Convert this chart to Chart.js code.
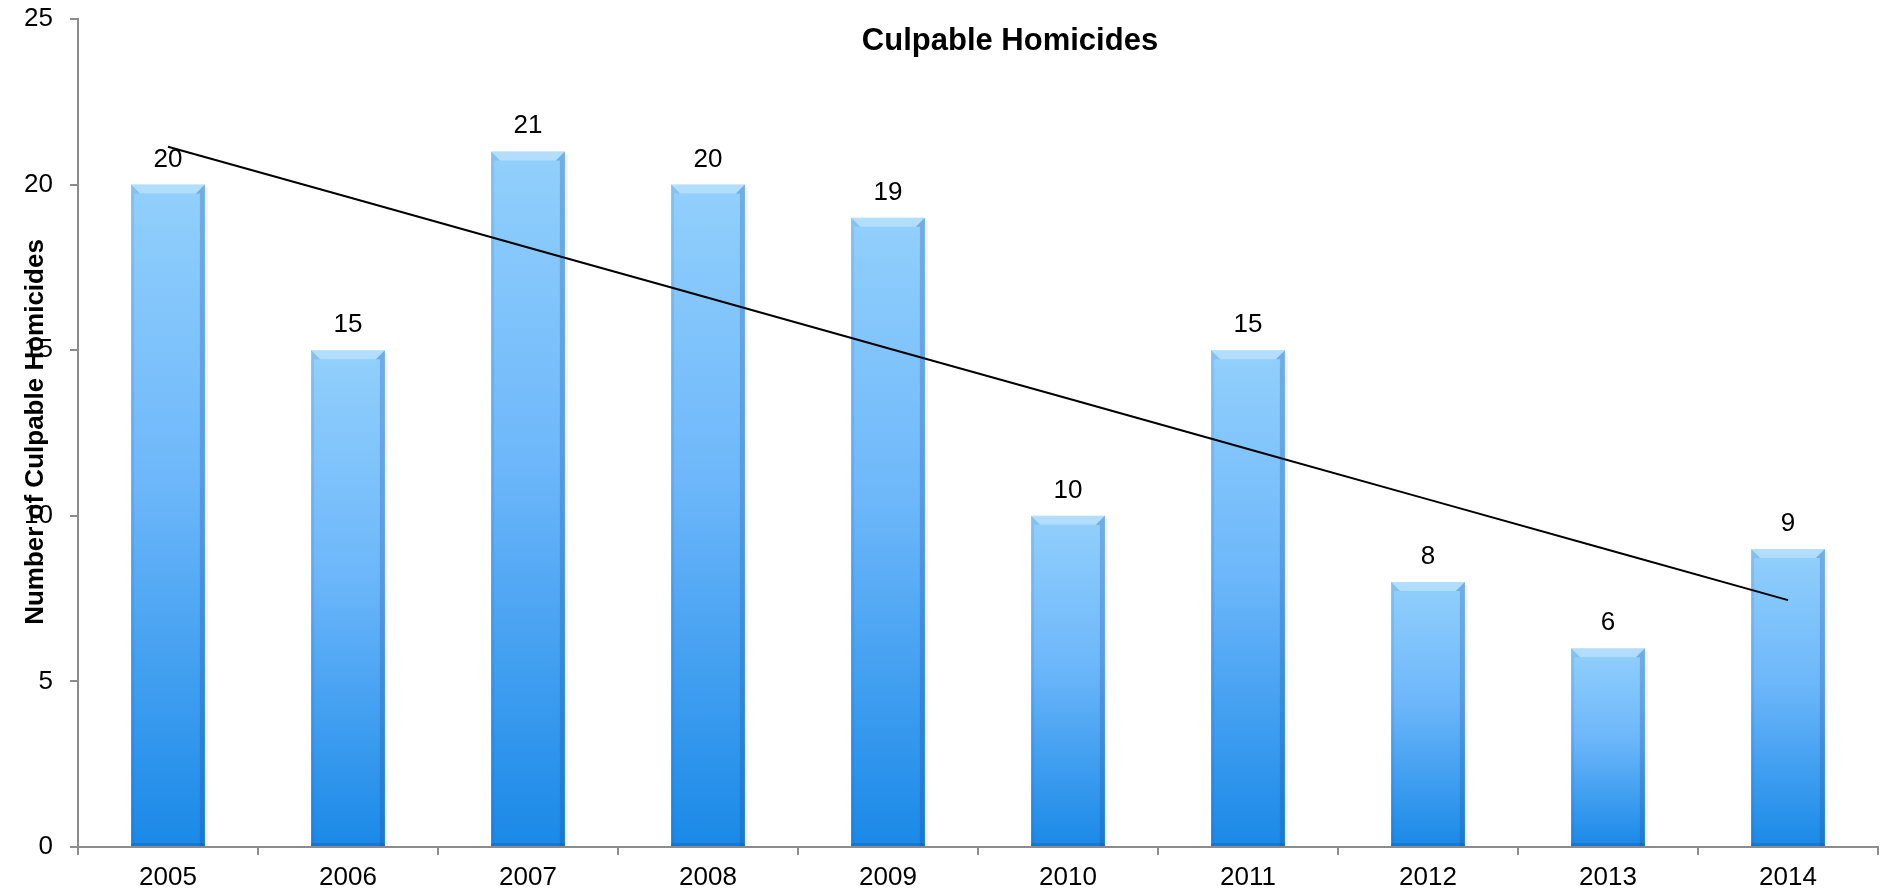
<!DOCTYPE html>
<html>
<head>
<meta charset="utf-8">
<title>Culpable Homicides</title>
<script src="https://cdn.jsdelivr.net/npm/chart.js@4"></script>
<style>
  html, body { margin: 0; padding: 0; background: #ffffff; }
  canvas { display: block; }
</style>
</head>
<body>
<canvas id="homicideChart" width="1886" height="895"></canvas>
<script>
const years = ['2005', '2006', '2007', '2008', '2009', '2010', '2011', '2012', '2013', '2014'];
const homicides = [20, 15, 21, 20, 19, 10, 15, 8, 6, 9];
const yTicks = [0, 5, 10, 15, 20, 25];

const FONT = "'Liberation Sans', Arial, sans-serif";
const AXIS_GREY = '#8c8c8c';

// least squares trend over the yearly counts
function linearTrend(values) {
    const n = values.length;
    let sx = 0, sy = 0, sxy = 0, sxx = 0;
    values.forEach((v, i) => {
        sx += i; sy += v; sxy += i * v; sxx += i * i;
    });
    const slope = (n * sxy - sx * sy) / (n * sxx - sx * sx);
    const intercept = (sy - slope * sx) / n;
    return values.map((v, i) => intercept + slope * i);
}

function barGradient(context) {
    const chart = context.chart;
    const area = chart.chartArea;
    if (!area || context.type !== 'data') {
        return '#6cb6fa';
    }
    const y = chart.scales.y;
    const top = y.getPixelForValue(context.raw);
    const bottom = y.getPixelForValue(0);
    const g = chart.ctx.createLinearGradient(0, top, 0, bottom);
    g.addColorStop(0, '#92d0fc');
    g.addColorStop(0.45, '#6db7fa');
    g.addColorStop(1, '#1a89e7');
    return g;
}

// bevelled edges, value labels and the free-floating titles
const decorations = {
    id: 'decorations',
    afterDatasetsDraw(chart) {
        const ctx = chart.ctx;
        const meta = chart.getDatasetMeta(1);
        ctx.save();
        meta.data.forEach((bar) => {
            const l = bar.x - bar.width / 2;
            const r = bar.x + bar.width / 2;
            const t = bar.y;
            const b = bar.base;
            const bev = 9;

            // soft shadow on the right
            ctx.fillStyle = 'rgba(0,0,0,0.05)';
            ctx.fillRect(r, t + 3, 3, b - t - 3);

            // top bevel
            ctx.fillStyle = 'rgba(255,255,255,0.3)';
            ctx.beginPath();
            ctx.moveTo(l, t);
            ctx.lineTo(r, t);
            ctx.lineTo(r - bev, t + bev);
            ctx.lineTo(l + bev, t + bev);
            ctx.closePath();
            ctx.fill();

            // right edge
            ctx.fillStyle = 'rgba(20,70,150,0.25)';
            ctx.beginPath();
            ctx.moveTo(r, t);
            ctx.lineTo(r, b);
            ctx.lineTo(r - 5, b);
            ctx.lineTo(r - 5, t + bev);
            ctx.lineTo(r - bev, t + bev);
            ctx.closePath();
            ctx.fill();

            // left edge
            ctx.fillStyle = 'rgba(20,70,150,0.1)';
            ctx.beginPath();
            ctx.moveTo(l, t);
            ctx.lineTo(l + bev, t + bev);
            ctx.lineTo(l + 3, t + bev);
            ctx.lineTo(l + 3, b);
            ctx.lineTo(l, b);
            ctx.closePath();
            ctx.fill();

            // darker foot
            ctx.fillStyle = 'rgba(20,80,160,0.3)';
            ctx.fillRect(l, b - 3, r - l, 3);
        });

        // values above the bars
        ctx.fillStyle = '#000000';
        ctx.font = '26px ' + FONT;
        ctx.textAlign = 'center';
        ctx.textBaseline = 'alphabetic';
        meta.data.forEach((bar, i) => {
            ctx.fillText(String(homicides[i]), bar.x, bar.y - 18);
        });
        ctx.restore();
    },
    afterDraw(chart) {
        const ctx = chart.ctx;
        ctx.save();
        ctx.fillStyle = '#000000';

        ctx.font = 'bold 31px ' + FONT;
        ctx.textAlign = 'center';
        ctx.textBaseline = 'alphabetic';
        ctx.fillText('Culpable Homicides', 1010, 50);

        ctx.translate(43, 432);
        ctx.rotate(-Math.PI / 2);
        ctx.font = 'bold 26px ' + FONT;
        ctx.fillText('Number of Culpable Homicides', 0, 0);
        ctx.restore();
    }
};

new Chart(document.getElementById('homicideChart'), {
    data: {
        labels: years,
        datasets: [
            {
                type: 'line',
                label: 'Trend',
                data: linearTrend(homicides),
                borderColor: '#000000',
                borderWidth: 2,
                pointRadius: 0,
                fill: false,
                order: 0
            },
            {
                type: 'bar',
                label: 'Culpable Homicides',
                data: homicides,
                backgroundColor: barGradient,
                borderWidth: 0,
                categoryPercentage: 1,
                barPercentage: 0.41,
                order: 1
            }
        ]
    },
    options: {
        responsive: false,
        animation: false,
        devicePixelRatio: 1,
        layout: {
            padding: { top: 19, right: 8, bottom: 0, left: 0 }
        },
        plugins: {
            legend: { display: false },
            tooltip: { enabled: false },
            title: { display: false }
        },
        scales: {
            x: {
                type: 'category',
                offset: true,
                grid: {
                    offset: true,
                    drawOnChartArea: false,
                    color: AXIS_GREY,
                    lineWidth: 2,
                    tickLength: 8
                },
                border: { display: true, color: AXIS_GREY, width: 2 },
                ticks: {
                    color: '#000000',
                    padding: 7,
                    font: { family: FONT, size: 26 }
                },
                afterFit(scale) { scale.height = 48; }
            },
            y: {
                type: 'linear',
                min: yTicks[0],
                max: yTicks[yTicks.length - 1],
                afterBuildTicks(scale) {
                    scale.ticks = yTicks.map(v => ({ value: v }));
                },
                grid: {
                    drawOnChartArea: false,
                    color: AXIS_GREY,
                    lineWidth: 2,
                    tickLength: 8
                },
                border: { display: true, color: AXIS_GREY, width: 2 },
                ticks: {
                    color: '#000000',
                    padding: 17,
                    font: { family: FONT, size: 26 }
                },
                afterFit(scale) {
                    // label padding would otherwise push the plot down
                    scale.width = 78;
                    scale.paddingTop = 0;
                    scale.paddingBottom = 0;
                }
            }
        }
    },
    plugins: [decorations]
});
</script>
</body>
</html>
